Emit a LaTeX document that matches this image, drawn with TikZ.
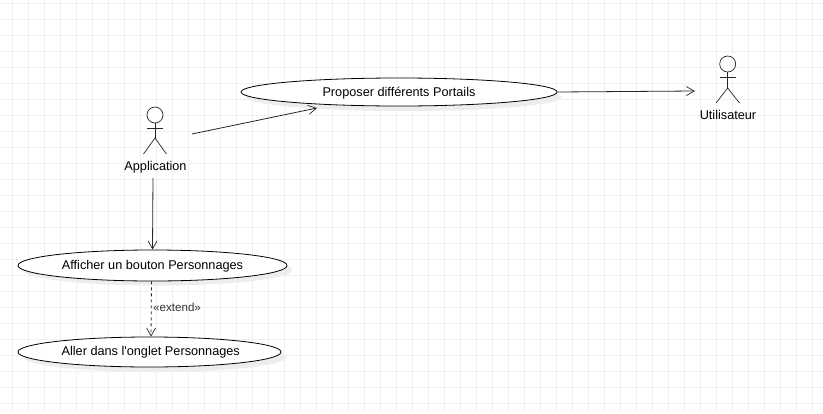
\documentclass[tikz,border=0pt]{standalone}
\usepackage{fontspec}
\setmainfont{Liberation Sans}
\newfontfamily\lsansplain{Liberation Sans}
\usetikzlibrary{arrows.meta,shapes.geometric}
\definecolor{gridc}{HTML}{F0F0F0}
\definecolor{shadowc}{HTML}{EDEDED}
\tikzset{
  uc/.style={draw=black,fill=white,ellipse,inner sep=0pt,line width=0.8pt,font=\lsansplain\fontsize{12.7}{14}\selectfont,minimum width=#1},
  uc shadow/.style={fill=shadowc,draw=none,ellipse,inner sep=0pt},
  lab/.style={inner sep=0pt,font=\fontsize{12.7}{14}\selectfont},
  limb/.style={draw=black!85,line width=0.7pt},
  head/.style={draw=black!85,circle,inner sep=0pt,minimum size=16pt,line width=0.7pt,fill=white},
  conn/.style={draw=black!85,line width=0.8pt,-{Straight Barb[length=8pt,width=9pt,line width=0.7pt]}},
}
\begin{document}
\begin{tikzpicture}[x=1pt,y=-1pt]
\useasboundingbox (0,0) rectangle (823,413);
\fill[white] (0,0) rectangle (823,413);
\foreach \x in {12,28,...,823} \draw[gridc,line width=0.8pt] (\x,0) -- (\x,413);
\foreach \y in {3,19,...,413} \draw[gridc,line width=0.8pt] (0,\y) -- (823,\y);
% shadows
\node[uc shadow,minimum width=316pt,minimum height=28pt] at (404,97) {};
\node[uc shadow,minimum width=269pt,minimum height=31pt] at (157.5,270) {};
\node[uc shadow,minimum width=263pt,minimum height=30pt] at (155,357) {};
% use cases
\node[uc=316pt,minimum height=28pt] (prop) at (399,92) {\raisebox{0pt}[11pt][2.5pt]{Proposer différents Portails}};
\node[uc=269pt,minimum height=31pt] (aff) at (152.5,265.5) {\raisebox{0pt}[11pt][2.5pt]{Afficher un bouton Personnages}};
\node[uc=263pt,minimum height=30pt] (aller) at (149.5,352) {\hspace*{2.5pt}Aller dans l'onglet Personnages};
% actor Application
\node[head] (h1) at (155,115) {};
\coordinate (n1) at (155,138);
\coordinate (al1) at (147,128);
\coordinate (ar1) at (163,128);
\coordinate (ll1) at (143.5,154);
\coordinate (lr1) at (166.5,154);
\draw[limb] (h1.south) -- (n1);
\draw[limb] (al1) -- (ar1);
\draw[limb] (ll1) -- (n1) -- (lr1);
\node[lab] (appl) at (155.5,167.2) {Application};
% actor Utilisateur
\node[head] (h2) at (727.7,64) {};
\coordinate (n2) at (727.7,88);
\coordinate (al2) at (719.5,77.7);
\coordinate (ar2) at (736,77.7);
\coordinate (ll2) at (716,103);
\coordinate (lr2) at (739.5,103);
\draw[limb] (h2.south) -- (n2);
\draw[limb] (al2) -- (ar2);
\draw[limb] (ll2) -- (n2) -- (lr2);
\node[lab] (util) at (728,115) {Utilisateur};
% connectors
\coordinate (c1) at (192,134);
\coordinate (c2) at (317,108);
\coordinate (c3) at (695,91);
\coordinate (c4) at (153,178);
\draw[conn] (c1) -- (c2);
\draw[conn] (prop.east) -- (c3);
\draw[conn] (c4) -- (aff.north);
\draw[conn,dash pattern=on 3pt off 3pt] ([xshift=-1pt]aff.south) -- ([xshift=1.5pt]aller.north);
\node[lab,anchor=west,text=black!80,font=\fontsize{11.6}{14}\selectfont] (ext) at (153,307) {«extend»};
\end{tikzpicture}
\end{document}
